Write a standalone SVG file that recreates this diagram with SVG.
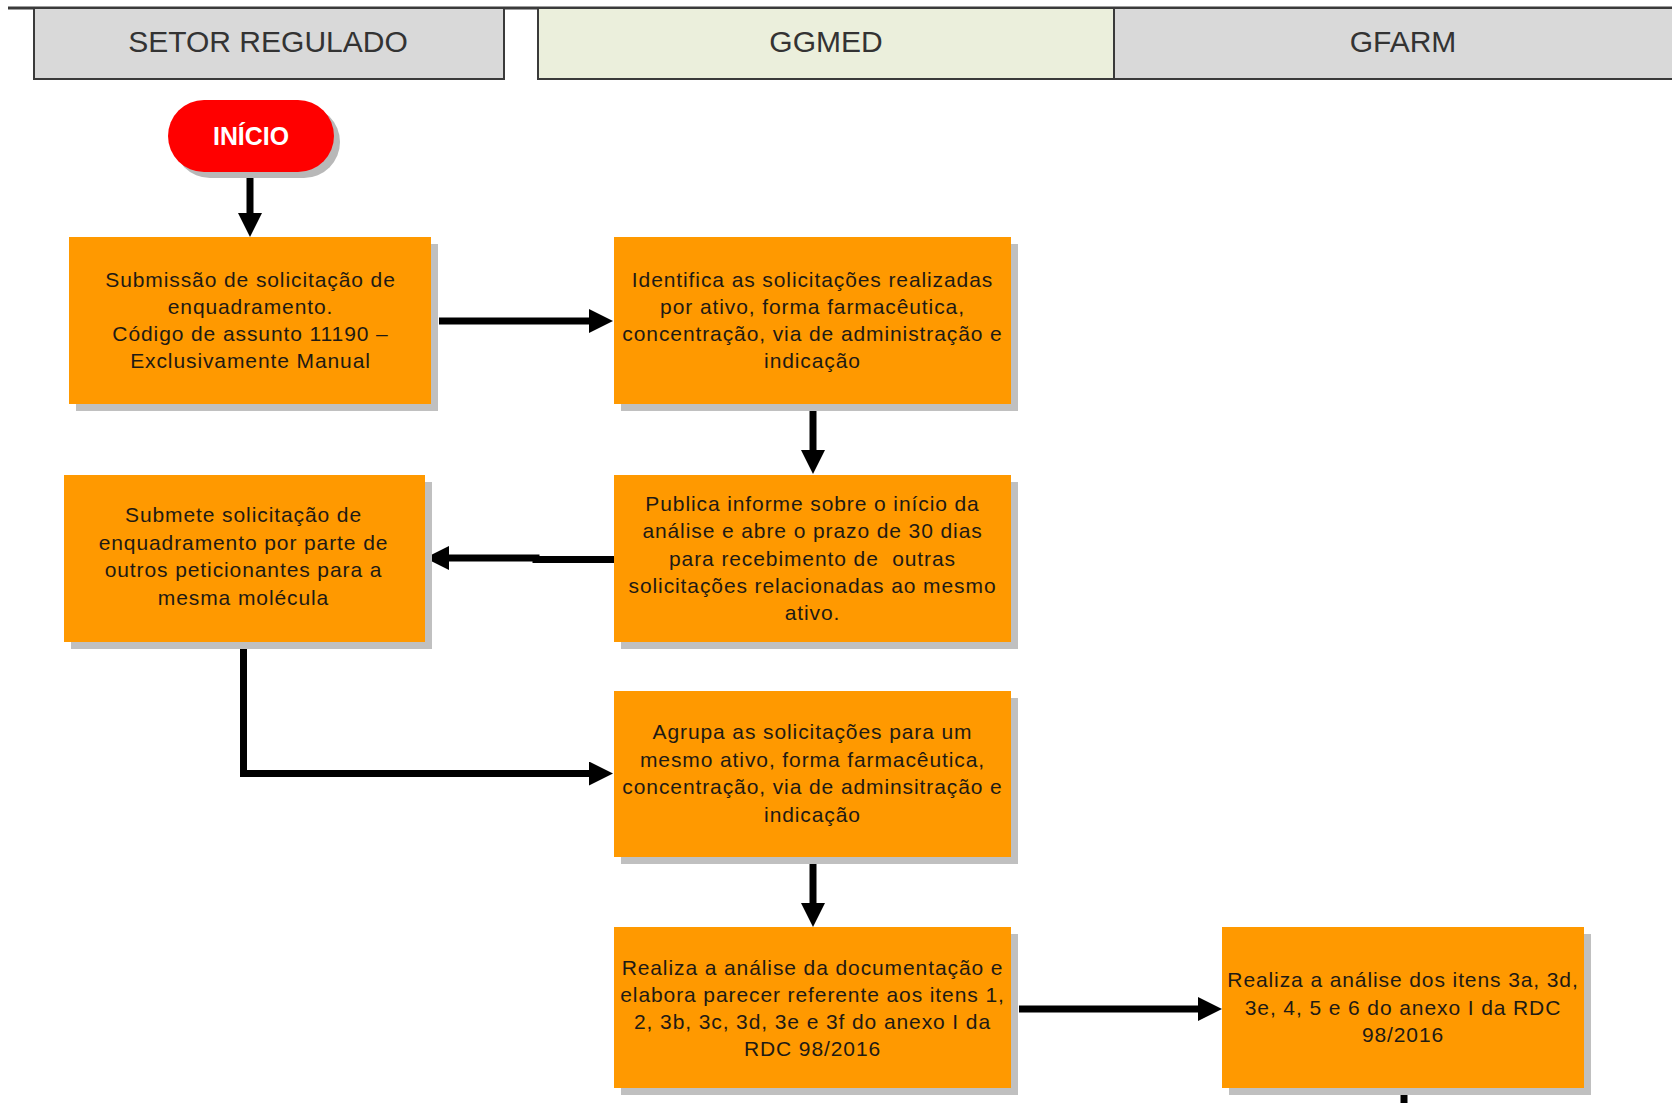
<svg xmlns="http://www.w3.org/2000/svg" width="1672" height="1103" viewBox="0 0 1672 1103">
<style>
.hdr{stroke:#3a3a3a;stroke-width:2}
.htxt{font-family:"Liberation Sans",Arial,sans-serif;font-size:30px;fill:#333;text-anchor:middle}
.box{fill:#ff9900}
.shadow{fill:#c0c0c0}
.btxt{font-family:"Liberation Sans",Arial,sans-serif;font-size:21px;letter-spacing:0.9px;fill:#1e1a14;text-anchor:middle}
.conn{fill:none;stroke:#000;stroke-width:7;stroke-linejoin:miter}
</style>
<defs>
<marker id="arrow" viewBox="0 0 24 24" markerWidth="24" markerHeight="24" refX="4" refY="12" orient="auto" markerUnits="userSpaceOnUse">
<path d="M0,0 L24,12 L0,24 z" fill="#000"/>
</marker>
</defs>
<rect width="1672" height="1103" fill="#fff"/>

<g id="lanes">
<line x1="8" y1="8" x2="1672" y2="8" stroke="#3a3a3a" stroke-width="3"/>
<g id="lane-setor">
<rect class="hdr" x="34" y="8" width="470" height="71" fill="#d9d9d9"/>
<text class="htxt" x="268" y="52">SETOR REGULADO</text>
</g>
<g id="lane-ggmed">
<rect class="hdr" x="538" y="8" width="576" height="71" fill="#ebefdc"/>
<text class="htxt" x="826" y="52">GGMED</text>
</g>
<g id="lane-gfarm">
<rect class="hdr" x="1114" y="8" width="570" height="71" fill="#d9d9d9"/>
<text class="htxt" x="1403" y="52">GFARM</text>
</g>
</g>

<g id="connectors">
<path class="conn" d="M250,172 V217" marker-end="url(#arrow)"/>
<path class="conn" d="M439,321 H593" marker-end="url(#arrow)"/>
<path class="conn" d="M813,410 V454" marker-end="url(#arrow)"/>
<path class="conn" d="M614,559.5 H536 V558 H445" marker-end="url(#arrow)"/>
<path class="conn" d="M243.5,638 V773.5 H593" marker-end="url(#arrow)"/>
<path class="conn" d="M813,854 V907" marker-end="url(#arrow)"/>
<path class="conn" d="M1019,1009 H1202" marker-end="url(#arrow)"/>
<path class="conn" d="M1404,1095 V1103"/>
</g>

<g id="inicio">
<rect x="174" y="106" width="166" height="72" rx="36" fill="#b8b8b8"/>
<rect x="168" y="100" width="166" height="72" rx="36" fill="#ff0000"/>
<text x="251" y="144.5" font-family="'Liberation Sans',Arial,sans-serif" font-size="26" font-weight="bold" fill="#fff" text-anchor="middle" textLength="76" lengthAdjust="spacingAndGlyphs">INÍCIO</text>
</g>

<g id="submissao">
<rect class="shadow" x="76" y="244" width="362" height="167"/>
<rect class="box" x="69" y="237" width="362" height="167"/>
<text class="btxt"><tspan x="250.5" y="286.5">Submissão de solicitação de</tspan><tspan x="250.5" y="313.5">enquadramento.</tspan><tspan x="250.5" y="340.5">Código de assunto 11190 –</tspan><tspan x="250.5" y="367.5">Exclusivamente Manual</tspan></text>
</g>

<g id="identifica">
<rect class="shadow" x="621" y="244" width="397" height="167"/>
<rect class="box" x="614" y="237" width="397" height="167"/>
<text class="btxt"><tspan x="812.5" y="286.5">Identifica as solicitações realizadas</tspan><tspan x="812.5" y="313.5">por ativo, forma farmacêutica,</tspan><tspan x="812.5" y="340.5">concentração, via de administração e</tspan><tspan x="812.5" y="367.5">indicação</tspan></text>
</g>

<g id="publica">
<rect class="shadow" x="621" y="482" width="397" height="167"/>
<rect class="box" x="614" y="475" width="397" height="167"/>
<text class="btxt" xml:space="preserve"><tspan x="812.5" y="511">Publica informe sobre o início da</tspan><tspan x="812.5" y="538">análise e abre o prazo de 30 dias</tspan><tspan x="812.5" y="565.5">para recebimento de  outras</tspan><tspan x="812.5" y="592.5">solicitações relacionadas ao mesmo</tspan><tspan x="812.5" y="620">ativo.</tspan></text>
</g>

<g id="submete">
<rect class="shadow" x="71" y="482" width="361" height="167"/>
<rect class="box" x="64" y="475" width="361" height="167"/>
<text class="btxt"><tspan x="243.5" y="522">Submete solicitação de</tspan><tspan x="243.5" y="549.5">enquadramento por parte de</tspan><tspan x="243.5" y="577">outros peticionantes para a</tspan><tspan x="243.5" y="604.5">mesma molécula</tspan></text>
</g>

<g id="agrupa">
<rect class="shadow" x="621" y="698" width="397" height="166"/>
<rect class="box" x="614" y="691" width="397" height="166"/>
<text class="btxt"><tspan x="812.5" y="739">Agrupa as solicitações para um</tspan><tspan x="812.5" y="766.5">mesmo ativo, forma farmacêutica,</tspan><tspan x="812.5" y="794">concentração, via de adminsitração e</tspan><tspan x="812.5" y="821.5">indicação</tspan></text>
</g>

<g id="realiza-ggmed">
<rect class="shadow" x="621" y="934" width="397" height="161"/>
<rect class="box" x="614" y="927" width="397" height="161"/>
<text class="btxt"><tspan x="812.5" y="974.5">Realiza a análise da documentação e</tspan><tspan x="812.5" y="1001.5">elabora parecer referente aos itens 1,</tspan><tspan x="812.5" y="1028.5">2, 3b, 3c, 3d, 3e e 3f do anexo I da</tspan><tspan x="812.5" y="1055.5">RDC 98/2016</tspan></text>
</g>

<g id="realiza-gfarm">
<rect class="shadow" x="1229" y="934" width="362" height="161"/>
<rect class="box" x="1222" y="927" width="362" height="161"/>
<text class="btxt"><tspan x="1403" y="987">Realiza a análise dos itens 3a, 3d,</tspan><tspan x="1403" y="1014.5">3e, 4, 5 e 6 do anexo I da RDC</tspan><tspan x="1403" y="1042">98/2016</tspan></text>
</g>
</svg>
